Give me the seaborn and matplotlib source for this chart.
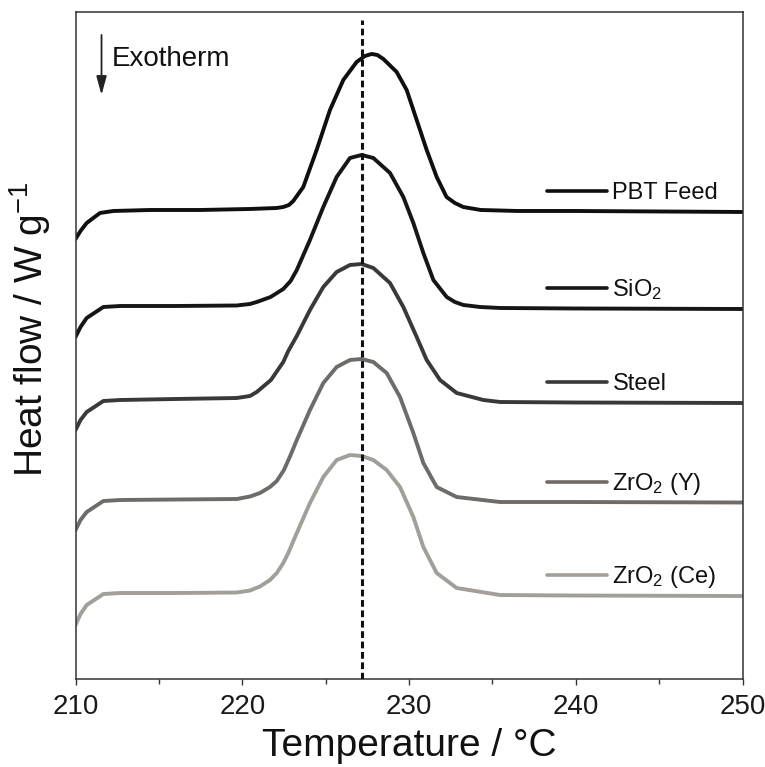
import numpy as np
import pandas as pd
import matplotlib
matplotlib.use("Agg")
import matplotlib.pyplot as plt
import seaborn as sns
from matplotlib.ticker import MultipleLocator
from matplotlib.lines import Line2D

# ---------------- data ----------------
samples = ["PBT Feed", "SiO2", "Steel", "ZrO2 (Y)", "ZrO2 (Ce)"]
sample_labels = ["PBT Feed", "SiO$_2$", "Steel", "ZrO$_2$ (Y)", "ZrO$_2$ (Ce)"]
colors = ["#0f0f0f", "#161616", "#3b3937", "#6e6b68", "#a29e9a"]

temp_pbt = [210.0, 210.3, 210.67, 211.47, 212.27, 214.5, 217.5, 220.46, 222.07, 222.46,
            222.8, 223.06, 223.66, 224.46, 225.26, 226.06, 226.86, 227.36, 227.76, 228.1,
            228.46, 229.26, 229.86, 230.46, 231.06, 231.66, 232.25, 232.75, 233.25, 234.3,
            236.5, 240.0, 245.0, 250.0]
hf_pbt = [4.40, 4.48, 4.56, 4.66, 4.68, 4.69, 4.69, 4.70, 4.71, 4.72,
          4.74, 4.78, 4.92, 5.29, 5.69, 5.99, 6.17, 6.23, 6.25, 6.24,
          6.20, 6.07, 5.89, 5.59, 5.29, 5.02, 4.82, 4.76, 4.72, 4.69,
          4.68, 4.68, 4.675, 4.67]

temp_sio2 = [210.0, 210.3, 210.67, 211.67, 212.67, 216.0, 219.67, 220.46, 220.87, 221.7,
             222.46, 222.9, 223.27, 224.06, 224.86, 225.66, 226.46, 227.16, 227.86, 228.86,
             229.66, 230.26, 230.86, 231.46, 232.26, 232.75, 233.26, 234.26, 235.46, 240.0,
             250.0]
hf_sio2 = [3.42, 3.52, 3.61, 3.72, 3.73, 3.73, 3.735, 3.75, 3.77, 3.82,
           3.90, 3.98, 4.09, 4.39, 4.72, 5.02, 5.21, 5.24, 5.21, 5.06,
           4.82, 4.56, 4.26, 3.99, 3.82, 3.77, 3.74, 3.72, 3.71, 3.705,
           3.70]

temp_steel = [210.0, 210.3, 210.67, 211.67, 212.67, 216.0, 219.67, 220.46, 220.87, 221.72,
              222.46, 222.76, 223.27, 224.06, 224.86, 225.66, 226.46, 227.16, 227.86, 228.86,
              229.66, 230.46, 231.06, 231.86, 232.86, 234.46, 235.46, 240.0, 250.0]
hf_steel = [2.49, 2.59, 2.67, 2.78, 2.79, 2.80, 2.81, 2.83, 2.87, 2.99,
            3.17, 3.28, 3.43, 3.69, 3.92, 4.07, 4.14, 4.15, 4.11, 3.96,
            3.72, 3.42, 3.19, 2.99, 2.86, 2.79, 2.77, 2.765, 2.76]

temp_zro2_y = [210.0, 210.3, 210.67, 211.67, 212.67, 216.0, 219.67, 220.46, 221.06, 221.66,
               222.07, 222.5, 222.9, 223.27, 224.06, 224.86, 225.66, 226.46, 227.16, 227.86,
               228.66, 229.46, 230.26, 230.86, 231.66, 232.86, 235.46, 240.0, 250.0]
hf_zro2_y = [1.49, 1.59, 1.67, 1.78, 1.79, 1.795, 1.80, 1.825, 1.86, 1.92,
             1.98, 2.09, 2.24, 2.39, 2.69, 2.96, 3.12, 3.19, 3.20, 3.17,
             3.06, 2.82, 2.46, 2.16, 1.92, 1.82, 1.77, 1.77, 1.765]

temp_zro2_ce = [210.0, 210.3, 210.67, 211.67, 212.67, 216.0, 219.67, 220.46, 221.06, 221.66,
                222.07, 222.46, 222.76, 223.27, 224.06, 224.86, 225.66, 226.46, 227.16, 227.86,
                228.66, 229.46, 230.26, 230.86, 231.66, 232.86, 235.46, 240.0, 250.0]
hf_zro2_ce = [0.54, 0.65, 0.74, 0.85, 0.86, 0.86, 0.865, 0.885, 0.925, 0.99,
              1.06, 1.16, 1.26, 1.46, 1.76, 2.02, 2.19, 2.24, 2.23, 2.19,
              2.09, 1.92, 1.62, 1.32, 1.06, 0.91, 0.84, 0.835, 0.83]

peak_temp = 227.2
x_ticks = [210, 220, 230, 240, 250]

# ---------------- build long table ----------------
temps = [temp_pbt, temp_sio2, temp_steel, temp_zro2_y, temp_zro2_ce]
flows = [hf_pbt, hf_sio2, hf_steel, hf_zro2_y, hf_zro2_ce]
frames = []
for name, t, h in zip(samples, temps, flows):
    frames.append(pd.DataFrame({"Temperature": t, "Heat flow": h, "Sample": name}))
df = pd.concat(frames, ignore_index=True)

# ---------------- style ----------------
sns.set_theme(style="white")
plt.rcParams["font.family"] = ["Liberation Sans", "DejaVu Sans"]
plt.rcParams["mathtext.fontset"] = "custom"
plt.rcParams["mathtext.rm"] = "Liberation Sans"
plt.rcParams["mathtext.it"] = "Liberation Sans:italic"
plt.rcParams["mathtext.bf"] = "Liberation Sans:bold"

fig = plt.figure(figsize=(7.65, 7.67), dpi=100)
ax = fig.add_axes([0.0987, 0.1147, 0.8719, 0.8697])

palette = dict(zip(samples, colors))
sns.lineplot(data=df, x="Temperature", y="Heat flow", hue="Sample", hue_order=samples,
             palette=palette, estimator=None, sort=False, legend=False,
             linewidth=2.8, ax=ax)
for line in ax.lines:
    line.set_solid_joinstyle("round")
    line.set_solid_capstyle("round")

ax.axvline(peak_temp, ymin=0, ymax=0.988, color="#111111", lw=2.2,
           dashes=(2.2, 1.2), zorder=5)

ax.set_xlim(210, 250)
ax.set_ylim(0, 6.67)
ax.set_xticks(x_ticks)
ax.xaxis.set_minor_locator(MultipleLocator(5))
ax.set_yticks([])
ax.tick_params(axis="x", which="both", direction="out", bottom=True, top=False,
               color="#333333", width=1.0, pad=6, labelsize=20, labelcolor="#1a1a1a")
ax.tick_params(axis="x", which="major", length=4.5)
ax.tick_params(axis="x", which="minor", length=3.5)

for sp in ax.spines.values():
    sp.set_visible(True)
    sp.set_color("#333333")
    sp.set_linewidth(1.1)

ax.set_xlabel("Temperature / °C", fontsize=28, color="#111111", labelpad=6)
ax.set_ylabel("Heat flow / W g$^{-1}$", fontsize=28, color="#111111")
ax.yaxis.set_label_coords(-0.033, 0.525)

# labels beside each curve
for name, lab, col, h in zip(samples, sample_labels, colors, flows):
    ylab = h[-1] + 0.21
    ax.add_line(Line2D([238.28, 241.88], [ylab, ylab], color=col, lw=2.6,
                       solid_capstyle="round"))
    ax.annotate(lab, xy=(242.2, ylab), xytext=(0, -5.8), textcoords="offset points",
                fontsize=17, color="#111111", va="baseline", ha="left")

# exotherm arrow
ax.annotate("", xy=(0.039, 0.8756), xytext=(0.039, 0.9655), xycoords="axes fraction",
            arrowprops=dict(arrowstyle="-|>,head_length=0.8,head_width=0.22",
                            color="#222222", lw=1.3, mutation_scale=14,
                            shrinkA=0, shrinkB=0))
ax.text(0.054, 0.9195, "Exotherm", transform=ax.transAxes, fontsize=20,
        color="#111111", va="baseline", ha="left")

fig.savefig("out.png", dpi=100)
